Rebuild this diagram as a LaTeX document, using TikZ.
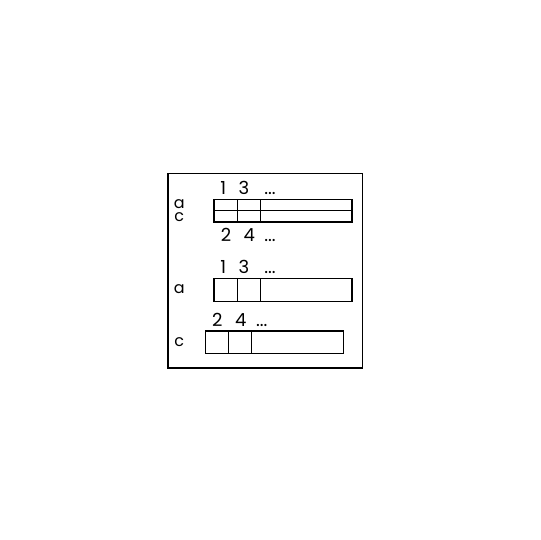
\documentclass[tikz,border=0pt]{standalone}
\usepackage{fontspec}
\setmainfont{Poppins}
\begin{document}
\begin{tikzpicture}[x=1pt, y=-1pt, line width=1.5pt,
    lbl/.style={font=\fontsize{18}{18}\selectfont, inner sep=0pt, anchor=base},
    row/.style={lbl, font=\fontsize{16}{16}\selectfont}]
    \useasboundingbox (0,0) rectangle (540,540);

    % Frame
    \draw (168,173.5) rectangle (362.5,368);

    % Double bar a/c
    \draw (214,199.5) rectangle (352,222);
    \draw (214,210.7) -- (352,210.7);
    \draw (237.7,199.5) -- (237.7,222);
    \draw (260.7,199.5) -- (260.7,222);

    % Bar a
    \draw (214,278.7) rectangle (352,301.7);
    \draw (237.7,278.7) -- (237.7,301.7);
    \draw (260.7,278.7) -- (260.7,301.7);

    % Bar c
    \draw (205.7,331) rectangle (343.3,353.7);
    \draw (228.7,331) -- (228.7,353.7);
    \draw (251.7,331) -- (251.7,353.7);

    % Labels
    \node[lbl] (ta1) at (223.3,194) {1};
    \node[lbl] (ta3) at (244,194) {3};
    \node[lbl] (tad) at (270,194) {...};
    \node[row] (tla) at (179.3,208.3) {a};
    \node[row] (tlc) at (179.3,221.3) {c};
    \node[lbl] (tc2) at (226,241.7) {2};
    \node[lbl] (tc4) at (249.3,241.7) {4};
    \node[lbl] (tcd) at (270,241.7) {...};

    \node[lbl] (ma1) at (223.3,273.3) {1};
    \node[lbl] (ma3) at (244,273.3) {3};
    \node[lbl] (mad) at (270,273.3) {...};
    \node[row] (mla) at (179.3,293.3) {a};

    \node[lbl] (bc2) at (217.3,326.7) {2};
    \node[lbl] (bc4) at (240.7,326.7) {4};
    \node[lbl] (bcd) at (261.7,326.7) {...};
    \node[row] (blc) at (179.3,346) {c};

\end{tikzpicture}
\end{document}
